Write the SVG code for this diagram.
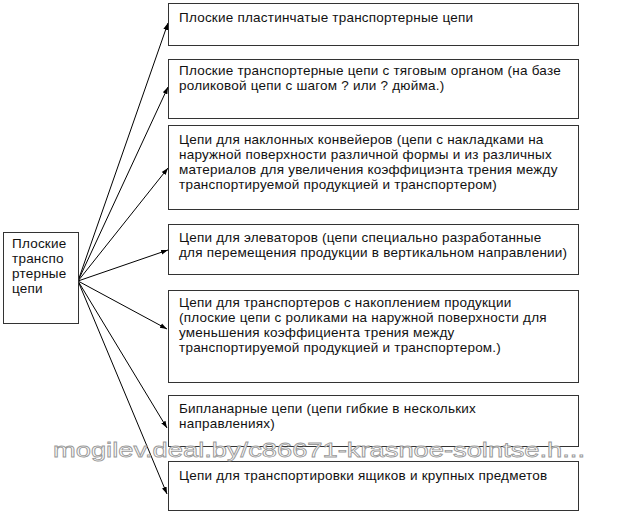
<svg xmlns="http://www.w3.org/2000/svg" width="640" height="514" viewBox="0 0 640 514">
<defs>
<marker id="ah" viewBox="0 0 10 10" refX="10" refY="5" markerWidth="7" markerHeight="7" markerUnits="userSpaceOnUse" orient="auto">
<path d="M0,1.5 L10,5 L0,8.5 z" fill="#000"/>
</marker>
<style>
.box{fill:#fff;stroke:#333;stroke-width:1}
.t{font-family:"Liberation Sans",Arial,sans-serif;font-size:13.5px;letter-spacing:0.22px;fill:#111}
.c{fill:none;stroke:#000;stroke-width:1;marker-end:url(#ah)}
.wm{font-family:"Liberation Sans",Arial,sans-serif;font-size:21px;fill:#fff;stroke:#999;stroke-width:0.8}
</style>
</defs>
<rect width="640" height="514" fill="#fff"/>
<g id="connectors">
<line class="c" x1="78" y1="281" x2="168" y2="23"/>
<line class="c" x1="78" y1="281" x2="168" y2="87"/>
<line class="c" x1="78" y1="281" x2="168" y2="168"/>
<line class="c" x1="78" y1="281" x2="168" y2="250"/>
<line class="c" x1="78" y1="281" x2="167" y2="329"/>
<line class="c" x1="78" y1="281" x2="167" y2="428"/>
<line class="c" x1="78" y1="281" x2="167" y2="494"/>
</g>
<g id="root">
<rect class="box" x="3.5" y="232.5" width="75" height="91"/>
<text class="t" x="12" y="248">Плоские</text>
<text class="t" x="12" y="263">транспо</text>
<text class="t" x="12" y="278">ртерные</text>
<text class="t" x="12" y="293">цепи</text>
</g>
<g id="n1">
<rect class="box" x="168.5" y="3.5" width="410" height="42"/>
<text class="t" x="179" y="22">Плоские пластинчатые транспортерные цепи</text>
</g>
<g id="n2">
<rect class="box" x="168.5" y="59.5" width="410" height="59"/>
<text class="t" x="179" y="75">Плоские транспортерные цепи с тяговым органом (на базе</text>
<text class="t" x="179" y="90">роликовой цепи с шагом ?  или ?  дюйма.)</text>
</g>
<g id="n3">
<rect class="box" x="168.5" y="125.5" width="410" height="84"/>
<text class="t" x="179" y="144">Цепи для наклонных конвейеров (цепи с накладками на</text>
<text class="t" x="179" y="159">наружной поверхности различной формы и из различных</text>
<text class="t" x="179" y="174">материалов для увеличения коэффициэнта трения между</text>
<text class="t" x="179" y="189">транспортируемой продукцией и транспортером)</text>
</g>
<g id="n4">
<rect class="box" x="168.5" y="224.5" width="410" height="50"/>
<text class="t" x="179" y="242">Цепи для элеваторов (цепи специально разработанные</text>
<text class="t" x="179" y="257">для перемещения продукции в вертикальном направлении)</text>
</g>
<g id="n5">
<rect class="box" x="168.5" y="290.5" width="410" height="92"/>
<text class="t" x="179" y="307">Цепи для транспортеров с накоплением продукции</text>
<text class="t" x="179" y="322">(плоские цепи с роликами на наружной поверхности для</text>
<text class="t" x="179" y="337">уменьшения коэффициента трения между</text>
<text class="t" x="179" y="352">транспортируемой продукцией и транспортером.)</text>
</g>
<g id="n6">
<rect class="box" x="168.5" y="395.5" width="410" height="51"/>
<text class="t" x="179" y="413">Бипланарные цепи (цепи гибкие в нескольких</text>
<text class="t" x="179" y="428">направлениях)</text>
</g>
<g id="n7">
<rect class="box" x="168.5" y="461.5" width="410" height="49"/>
<text class="t" x="179" y="480">Цепи для транспортировки ящиков и крупных предметов</text>
</g>
<text class="wm" x="53" y="457" textLength="532" lengthAdjust="spacingAndGlyphs">mogilev.deal.by/c86671-krasnoe-solntse.h...</text>
</svg>
